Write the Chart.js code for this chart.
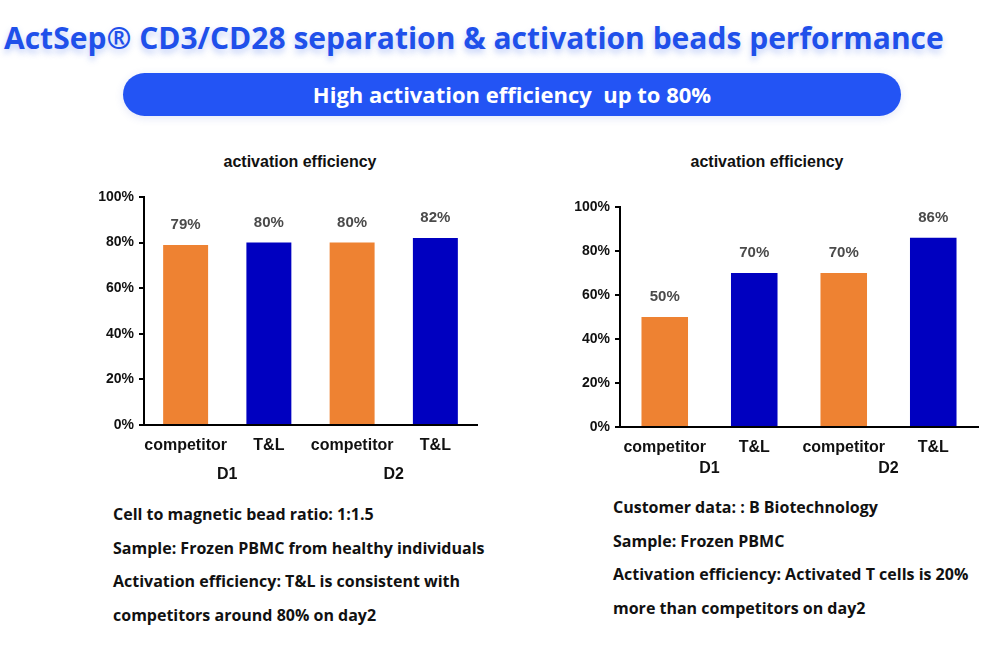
<!DOCTYPE html>
<html>
<head>
<meta charset="utf-8">
<script src="https://cdn.jsdelivr.net/npm/chart.js@4.4.0/dist/chart.umd.min.js"></script>
<style>
  body { margin: 0; width: 1002px; height: 666px; background: #fff; position: relative; overflow: hidden; font-family: "Open Sans", "Noto Sans", sans-serif; }
  .title { position: absolute; left: 4px; top: 23px; font-size: 30px; font-weight: 700; color: #1f50ea; white-space: nowrap; line-height: 1;
           text-shadow: 0 4px 6px rgba(120, 150, 240, 0.45); }
  .pill { position: absolute; left: 123px; top: 73px; width: 778px; height: 43px; border-radius: 22px; background: #2354f4;
          box-shadow: 0 2px 8px rgba(60, 90, 200, 0.15); color: #fff; font-size: 22px; font-weight: 700; text-align: center; line-height: 43px; }
  .ctitle { position: absolute; font-family: "Liberation Sans", Arial, sans-serif; font-weight: 700; font-size: 16px; color: #111; transform: translateX(-50%); white-space: nowrap; }
  .chart { position: absolute; }
  .notes { position: absolute; font-size: 16px; font-weight: 700; color: #111; line-height: 33.5px; white-space: nowrap; }
</style>
</head>
<body>
<div class="title">ActSep® CD3/CD28 separation &amp; activation beads performance</div>
<div class="pill">High activation efficiency&nbsp; up to 80%</div>

<div class="ctitle" style="left:300px; top:153px;">activation efficiency</div>
<div class="ctitle" style="left:767px; top:153px;">activation efficiency</div>

<div class="chart" style="left:90px; top:180px; width:400px; height:310px;"><canvas id="left"></canvas></div>
<div class="chart" style="left:570px; top:180px; width:420px; height:310px;"><canvas id="right"></canvas></div>

<div class="notes" style="left:113px; top:498px;">
  Cell to magnetic bead ratio: 1:1.5<br>
  Sample: Frozen PBMC from healthy individuals<br>
  Activation efficiency: T&amp;L is consistent with<br>
  competitors around 80% on day2
</div>
<div class="notes" style="left:613px; top:491px;">
  Customer data: : B Biotechnology<br>
  Sample: Frozen PBMC<br>
  Activation efficiency: Activated T cells is 20%<br>
  more than competitors on day2
</div>

<script>
// data
const categories = ['competitor', 'T&L', 'competitor', 'T&L'];
const groups = ['D1', 'D2'];
const leftValues = [79, 80, 80, 82];
const rightValues = [50, 70, 70, 86];
const yTicks = [0, 20, 40, 60, 80, 100];

const orange = '#ee8232';
const blue = '#0000c0';
const axisFont = { family: '"Liberation Sans", Arial, sans-serif', weight: 'bold' };

// percentage above each bar
const valueLabels = {
  id: 'valueLabels',
  afterDatasetsDraw(chart) {
    const ctx = chart.ctx;
    const meta = chart.getDatasetMeta(0);
    ctx.save();
    ctx.font = 'bold 15px "Liberation Sans", Arial, sans-serif';
    ctx.fillStyle = '#4a4a4a';
    ctx.textAlign = 'center';
    ctx.textBaseline = 'middle';
    meta.data.forEach((bar, i) => {
      ctx.fillText(chart.data.datasets[0].data[i] + '%', bar.x, bar.y - 20);
    });
    ctx.restore();
  }
};

function makeChart(id, values, opts) {
  new Chart(document.getElementById(id), {
    type: 'bar',
    data: {
      labels: categories,
      datasets: [{
        data: values,
        backgroundColor: [orange, blue, orange, blue],
        borderWidth: 0,
        barPercentage: opts.barPct,
        categoryPercentage: 1
      }]
    },
    options: {
      responsive: true,
      maintainAspectRatio: false,
      animation: false,
      layout: { padding: { top: opts.top, right: opts.right, bottom: opts.bottom, left: 0 } },
      plugins: { legend: { display: false }, tooltip: { enabled: false } },
      scales: {
        x: {
          grid: { display: false, drawTicks: false },
          border: { display: true, color: '#000', width: 2 },
          ticks: { color: '#111', font: { ...axisFont, size: 16 }, padding: 11, maxRotation: 0, autoSkip: false },
          afterFit(s) { s.height = opts.xH; }
        },
        x2: {
          type: 'category',
          labels: groups,
          position: 'bottom',
          offset: true,
          grid: { display: false, drawTicks: false },
          border: { display: false },
          ticks: { color: '#111', font: { ...axisFont, size: 16 }, padding: 0 },
          afterFit(s) { s.height = 25; }
        },
        y: {
          min: 0,
          max: 100,
          afterBuildTicks(s) { s.ticks = yTicks.map(v => ({ value: v })); },
          grid: { drawOnChartArea: false, drawTicks: true, tickLength: 5, color: '#000', lineWidth: 2 },
          border: { display: true, color: '#000', width: 2 },
          ticks: { color: '#111', font: { ...axisFont, size: 14 }, padding: 5, callback: v => v + '%' },
          afterFit(s) { s.width = opts.yW; }
        }
      }
    },
    plugins: [valueLabels]
  });
}

makeChart('left', leftValues, { top: 17, right: 13, bottom: 0, xH: 40, yW: 54, barPct: 0.54 });
makeChart('right', rightValues, { top: 27, right: 12, bottom: 6, xH: 32, yW: 50, barPct: 0.52 });
</script>
</body>
</html>
